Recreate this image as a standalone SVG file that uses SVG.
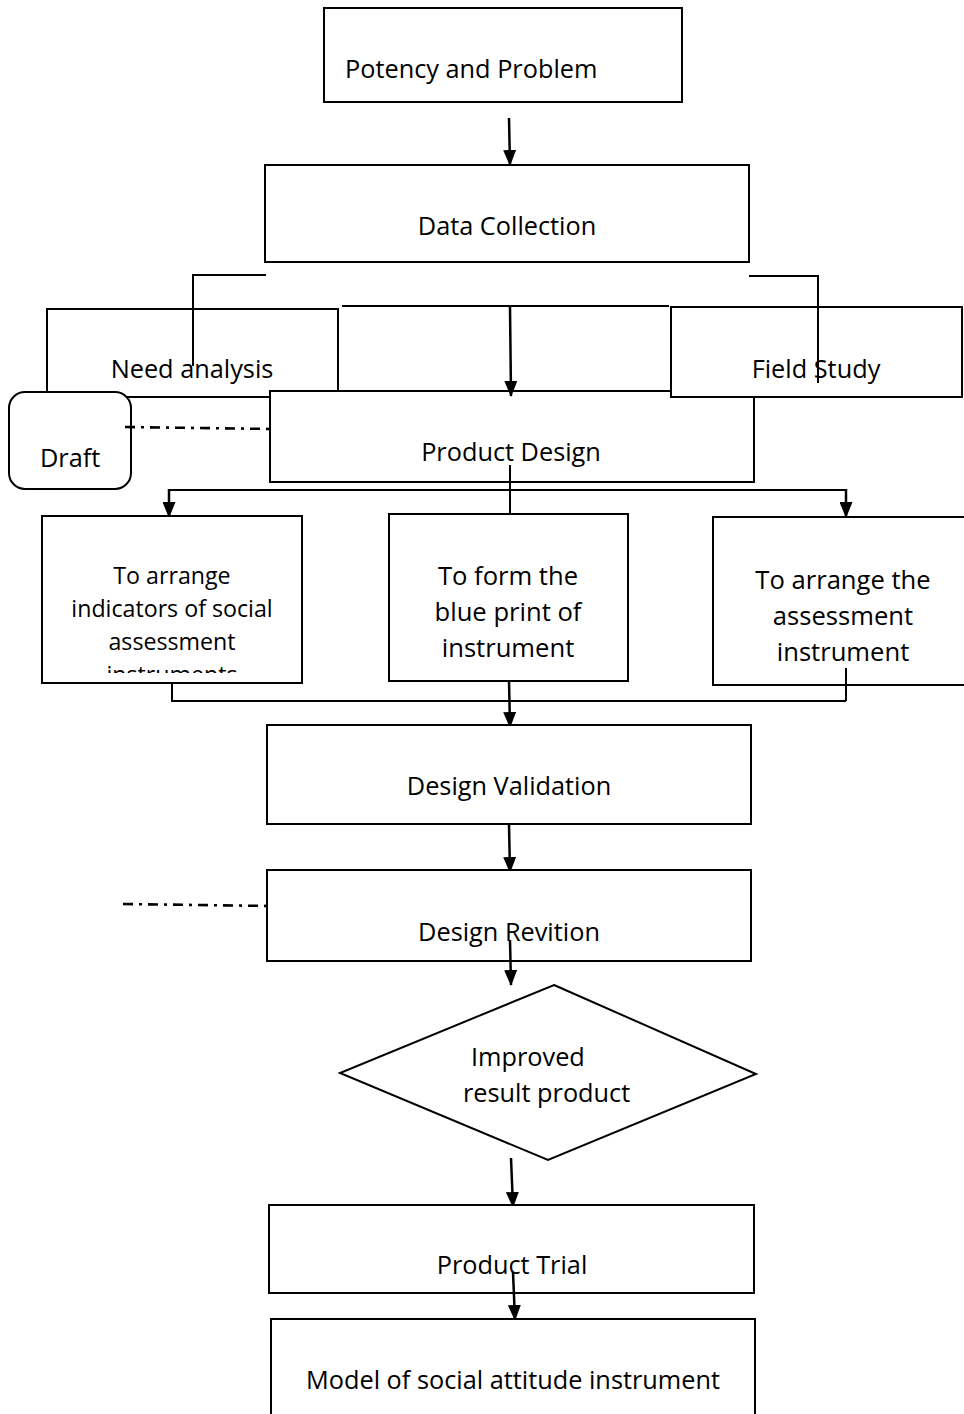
<svg xmlns="http://www.w3.org/2000/svg" width="964" height="1414" viewBox="0 0 964 1414">
<defs>
<marker id="arr" markerWidth="16" markerHeight="13" refX="15" refY="6.5" orient="auto" markerUnits="userSpaceOnUse" viewBox="0 0 16 13">
<path d="M0,0 L16,6.5 L0,13 Z" fill="#000"/>
</marker>
<clipPath id="cp1"><rect x="42" y="516" width="260" height="157"/></clipPath>
</defs>
<style>
.box{fill:#fff;stroke:#000;stroke-width:2}
.ln{fill:none;stroke:#000;stroke-width:2}
.ar{fill:none;stroke:#000;stroke-width:2.5;marker-end:url(#arr)}
.dd{fill:none;stroke:#000;stroke-width:2.6;stroke-dasharray:10,6,3,6}
text{font-family:"Open Sans","Noto Sans",sans-serif;font-size:25.3px;fill:#000}
.c{text-anchor:middle}
.s{font-size:23.2px}
.m{font-size:25.6px}
</style>
<rect width="964" height="1414" fill="#fff"/>

<g id="n-potency"><rect class="box" x="324" y="8" width="358" height="94"/><text x="345" y="78">Potency and Problem</text></g>
<g id="n-data"><rect class="box" x="265" y="165" width="484" height="97"/><text class="c" x="507" y="235">Data Collection</text></g>
<g id="n-need"><rect class="box" x="47" y="309" width="291" height="88"/><text class="c" x="192" y="378">Need analysis</text></g>
<g id="n-design"><rect class="box" x="270" y="391" width="484" height="91"/><text class="c" x="511" y="461">Product Design</text></g>
<g id="n-field"><rect class="box" x="671" y="307" width="291" height="90"/><text class="c" x="816" y="378">Field Study</text></g>
<g id="n-draft"><rect class="box" x="9" y="392" width="122" height="97" rx="16"/><text x="40" y="467">Draft</text></g>

<g id="connectors">
<path class="ln" d="M266,275 H193 V366"/>
<path class="ln" d="M749,276 H818 V383"/>
<path class="ln" d="M342,306 H669"/>
<path class="ar" d="M510,307 L511,396"/>
<path class="ar" d="M509,118 L510,165"/>
<path class="dd" d="M125,427 L273,429"/>
<path class="ln" d="M510,465 V515"/>
<path class="ln" d="M169,490 H846"/>
<path class="ar" d="M169,489 V517"/>
<path class="ar" d="M846,489 V517"/>
<path class="ln" d="M172,683 V701 H846"/>
<path class="ar" d="M509,681 L510,727"/>
<path class="ar" d="M509,825 L510,872"/>
<path class="dd" d="M123,904 L272,906"/>
</g>

<g id="n-ind"><rect class="box" x="42" y="516" width="260" height="167"/>
<g clip-path="url(#cp1)"><text class="c s" x="172" y="584">To arrange</text><text class="c s" x="172" y="617">indicators of social</text><text class="c s" x="172" y="650">assessment</text><text class="c s" x="172" y="683">instruments</text></g></g>
<g id="n-blue"><rect class="box" x="389" y="514" width="239" height="167"/><text class="c m" x="508" y="585">To form the</text><text class="c m" x="508" y="621">blue print of</text><text class="c m" x="508" y="657">instrument</text></g>
<g id="n-arr"><rect class="box" x="713" y="517" width="260" height="168"/><text class="c m" x="843" y="589">To arrange the</text><text class="c m" x="843" y="625">assessment</text><text class="c m" x="843" y="661">instrument</text></g>
<path class="ln" d="M846,668 V701"/>

<g id="n-valid"><rect class="box" x="267" y="725" width="484" height="99"/><text class="c" x="509" y="795">Design Validation</text></g>
<g id="n-rev"><rect class="box" x="267" y="870" width="484" height="91"/><text class="c" x="509" y="941">Design Revition</text></g>
<path class="ar" d="M510,940 L511,985"/>
<g id="n-improved"><polygon class="box" points="554,985 756,1074 548,1160 340,1073"/><text x="471" y="1066">Improved</text><text x="463" y="1102">result product</text></g>
<path class="ar" d="M511,1158 L513,1207"/>
<g id="n-trial"><rect class="box" x="269" y="1205" width="485" height="88"/><text class="c" x="512" y="1274">Product Trial</text></g>
<path class="ar" d="M513,1272 L515,1320"/>
<g id="n-model"><rect class="box" x="271" y="1319" width="484" height="110"/><text class="c" x="513" y="1389">Model of social attitude instrument</text></g>
</svg>
